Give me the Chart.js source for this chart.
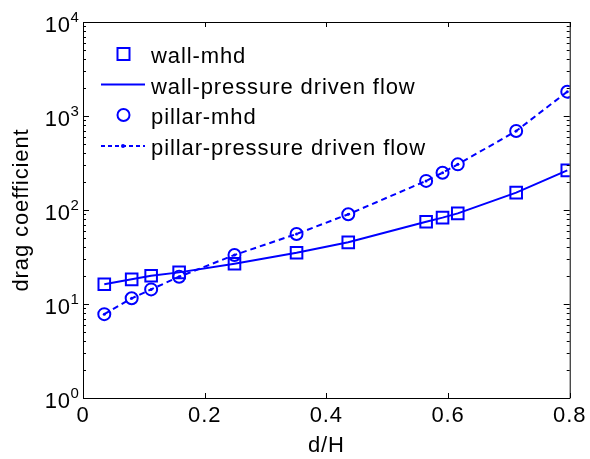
<!DOCTYPE html>
<html>
<head>
<meta charset="utf-8">
<script src="https://cdn.jsdelivr.net/npm/chart.js@4/dist/chart.umd.min.js"></script>
<style>
  html, body { margin: 0; padding: 0; background: #fff; }
  #wrap { width: 590px; height: 459px; position: relative; }
</style>
</head>
<body>
<div id="wrap"><canvas id="chart"></canvas></div>
<script>
// d/H positions of the samples (same for all four series)
const dH = [0.035, 0.080, 0.112, 0.158, 0.249, 0.351, 0.436, 0.564, 0.591, 0.616, 0.712, 0.796];

// drag coefficient, wall case
const wallMhd      = [16.2, 18.3, 20.0, 21.7, 26.8, 35.1, 45.3, 75, 83, 92, 153, 264];
const wallPressure = [16.2, 18.3, 20.0, 21.7, 26.8, 35.1, 45.3, 75, 83, 92, 153, 264];

// drag coefficient, pillar case
const pillarMhd      = [7.8, 11.5, 14.3, 19.5, 33.2, 55.6, 90, 204, 249, 306, 692, 1815];
const pillarPressure = [7.8, 11.5, 14.3, 19.5, 33.2, 55.6, 90, 204, 249, 306, 692, 1815];

const xTicks = [0, 0.2, 0.4, 0.6, 0.8];
const yDecades = [1, 10, 100, 1000, 10000];

const BLUE = '#0000ff';
const FONT = 'Liberation Sans, Arial, Helvetica, sans-serif';
const SIZE = 22;
const SPACING = '0.9px';

const pts = (ys) => ys.map((y, i) => ({ x: dH[i], y }));

// MATLAB style box: inward ticks on all four sides, "10^n" labels, inline legend
const matlabAxes = {
    id: 'matlabAxes',
    beforeDraw(chart) {
        chart.ctx.letterSpacing = SPACING;
    },
    afterDraw(chart) {
        const ctx = chart.ctx;
        const { left, right, top, bottom } = chart.chartArea;
        const xs = chart.scales.x, ys = chart.scales.y;
        ctx.save();
        ctx.strokeStyle = '#000';
        ctx.lineWidth = 1;
        ctx.beginPath();
        ctx.moveTo(left + 0.5, top + 0.5);
        ctx.lineTo(right + 0.5, top + 0.5);
        ctx.lineTo(right + 0.5, bottom + 0.5);
        ctx.stroke();

        // x ticks, bottom and top
        ctx.beginPath();
        xTicks.forEach(v => {
            const px = Math.round(xs.getPixelForValue(v)) + 0.5;
            ctx.moveTo(px, bottom); ctx.lineTo(px, bottom - 5);
            ctx.moveTo(px, top); ctx.lineTo(px, top + 5);
        });
        // y ticks, major at decades, minor at 2..9
        for (let d = 0; d < yDecades.length; d++) {
            const base = yDecades[d];
            const py = Math.round(ys.getPixelForValue(base)) + 0.5;
            ctx.moveTo(left, py); ctx.lineTo(left + 6, py);
            ctx.moveTo(right, py); ctx.lineTo(right - 6, py);
            if (d === yDecades.length - 1) break;
            for (let m = 2; m <= 9; m++) {
                const my = Math.round(ys.getPixelForValue(base * m)) + 0.5;
                ctx.moveTo(left, my); ctx.lineTo(left + 3, my);
                ctx.moveTo(right, my); ctx.lineTo(right - 3, my);
            }
        }
        ctx.stroke();

        // y tick labels as 10 with a raised exponent
        ctx.fillStyle = '#000';
        ctx.letterSpacing = SPACING;
        yDecades.forEach(v => {
            const py = ys.getPixelForValue(v);
            ctx.font = SIZE + 'px ' + FONT;
            ctx.textAlign = 'right';
            ctx.textBaseline = 'alphabetic';
            ctx.fillText('10', 71, py + 10);
            ctx.font = '15px ' + FONT;
            ctx.textAlign = 'left';
            ctx.fillText(String(Math.round(Math.log10(v))), 70.5, py);
        });

        // legend
        const rows = [54, 84.5, 115, 146];
        const ds = chart.data.datasets;
        ctx.strokeStyle = BLUE;
        ctx.lineWidth = 2;
        // square marker
        ctx.strokeRect(117.5, rows[0] - 6, 12, 12);
        // solid line
        ctx.beginPath();
        ctx.moveTo(101, rows[1]); ctx.lineTo(145, rows[1]);
        ctx.stroke();
        // circle marker
        ctx.beginPath();
        ctx.arc(123.5, rows[2], 6, 0, Math.PI * 2);
        ctx.stroke();
        // dashed line with a dot
        ctx.setLineDash([4, 3]);
        ctx.beginPath();
        ctx.moveTo(101, rows[3]); ctx.lineTo(145, rows[3]);
        ctx.stroke();
        ctx.setLineDash([]);
        ctx.fillStyle = BLUE;
        ctx.beginPath();
        ctx.arc(123, rows[3], 2, 0, Math.PI * 2);
        ctx.fill();

        ctx.fillStyle = '#000';
        ctx.font = SIZE + 'px ' + FONT;
        ctx.textAlign = 'left';
        ctx.textBaseline = 'alphabetic';
        ds.forEach((d, i) => ctx.fillText(d.label, 151, rows[i] + 9));
        ctx.restore();
    }
};

new Chart(document.getElementById('chart'), {
    type: 'line',
    data: {
        datasets: [{
            label: 'wall-mhd',
            data: pts(wallMhd),
            showLine: false,
            pointStyle: 'rect',
            pointRadius: 8.2,
            borderColor: BLUE,
            backgroundColor: 'rgba(0,0,0,0)',
            pointBorderWidth: 2
        }, {
            label: 'wall-pressure driven flow',
            data: pts(wallPressure),
            borderColor: BLUE,
            borderWidth: 2,
            pointRadius: 0
        }, {
            label: 'pillar-mhd',
            data: pts(pillarMhd),
            showLine: false,
            pointStyle: 'circle',
            pointRadius: 6,
            borderColor: BLUE,
            backgroundColor: 'rgba(0,0,0,0)',
            pointBorderWidth: 2
        }, {
            label: 'pillar-pressure driven flow',
            data: pts(pillarPressure),
            borderColor: BLUE,
            borderWidth: 2,
            borderDash: [6, 4],
            pointStyle: 'circle',
            pointRadius: 1.5,
            pointBackgroundColor: BLUE,
            pointBorderWidth: 0
        }]
    },
    options: {
        responsive: true,
        maintainAspectRatio: false,
        animation: false,
        layout: { padding: { top: 22, right: 17, left: 0, bottom: 0 } },
        plugins: {
            legend: { display: false },
            tooltip: { enabled: false }
        },
        scales: {
            x: {
                type: 'linear',
                min: 0,
                max: 0.8,
                afterBuildTicks: (scale) => { scale.ticks = xTicks.map(v => ({ value: v })); },
                afterFit: (scale) => { scale.height = 61; },
                grid: { display: false, drawTicks: false },
                border: { display: true, color: '#000', width: 1 },
                ticks: {
                    color: '#000',
                    padding: 5,
                    maxRotation: 0,
                    font: { family: FONT, size: SIZE },
                    callback: (v) => String(v)
                },
                title: {
                    display: true,
                    text: 'd/H',
                    color: '#000',
                    font: { family: FONT, size: SIZE },
                    padding: { top: 0, bottom: 0 }
                }
            },
            y: {
                type: 'logarithmic',
                min: 1,
                max: 10000,
                afterFit: (scale) => { scale.width = 83; },
                grid: { display: false, drawTicks: false },
                border: { display: true, color: '#000', width: 1 },
                ticks: { display: false },
                title: {
                    display: true,
                    text: 'drag coefficient',
                    color: '#000',
                    font: { family: FONT, size: SIZE },
                    padding: { top: 9, bottom: 0 }
                }
            }
        }
    },
    plugins: [matlabAxes]
});
</script>
</body>
</html>
